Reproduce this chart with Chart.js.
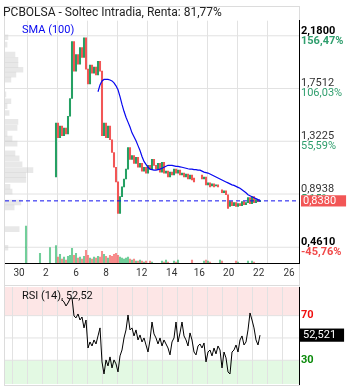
<!DOCTYPE html>
<html><head><meta charset="utf-8">
<script src="https://cdn.jsdelivr.net/npm/chart.js@4/dist/chart.umd.min.js"></script>
<style>
html,body{margin:0;padding:0;background:#fff;}
#wrap{position:relative;width:353px;height:390px;overflow:hidden;}
#frame{position:absolute;left:4px;top:6px;width:296px;height:380px;border:1px solid #dcdcdc;box-sizing:border-box;}
#sep{position:absolute;left:4px;top:285px;width:296px;height:1px;background:#dcdcdc;}
canvas{position:absolute;left:0;}
#c1{top:0}
#c2{top:286px}
</style></head><body>
<div id="wrap"><div id="frame"></div><div id="sep"></div>
<canvas id="c1" width="353" height="286"></canvas>
<canvas id="c2" width="353" height="104"></canvas></div>
<script>
// ---------- DATA ----------
const chartTitle = 'PCBOLSA - Soltec Intradia, Renta: 81,77%';
const smaLabel = 'SMA (100)';
const rsiLabel = 'RSI (14)';
const xTickLabels = ['30','2','6','8','12','14','16','20','22','26'];
const xTickPos = [-3.5, 9.85, 25, 40, 57.85, 72.85, 86.65, 101.35, 116.35, 131.5];
const priceTicks = [2.18, 1.7512, 1.3225, 0.8938, 0.461];
const pctLabels = ['156,47%','106,03%','55,59%','5,15%','-45,76%'];
const lastPrice = 0.838;
const rsiTicks = [30, 50, 70];
const rsiTickLabels = ['30', '', '70'];
const rsiLast = 52.521;

const opens = [null,null,null,null,null,null,null,null,null,null,null,null,null,null,null,
1.032,1.470,1.351,1.446,1.367,1.430,1.383,1.526,1.670,2.132,
1.893,2.028,1.949,2.084,2.004,2.164,1.909,1.789,1.941,1.877,
1.925,1.861,1.973,1.893,1.367,1.470,1.351,1.446,1.335,1.231,
1.111,0.992,0.737,0.872,0.952,1.016,1.096,1.271,1.175,1.207,
1.143,1.191,1.111,1.143,1.080,1.111,1.064,1.127,1.096,1.175,
1.127,1.096,1.143,1.072,1.151,1.064,1.080,1.032,1.072,1.048,
1.096,1.064,1.088,1.048,1.064,1.032,1.056,1.016,1.048,1.024,
null,null,null,1.048,1.016,1.032,0.968,0.984,0.960,0.976,
0.960,0.968,null,0.928,0.904,0.920,0.888,0.792,0.832,0.800,
0.824,0.792,0.816,0.800,0.832,0.808,0.824,0.864,0.816,0.872,
0.824,0.848,0.832];
const closes = [null,null,null,null,null,null,null,null,null,null,null,null,null,null,null,
1.470,1.351,1.446,1.367,1.430,1.383,1.526,1.670,2.132,1.893,
2.028,1.949,2.084,2.004,2.164,1.909,1.789,1.941,1.877,1.925,
1.861,1.973,1.893,1.367,1.470,1.351,1.446,1.335,1.231,1.111,
0.992,0.737,0.872,0.952,1.016,1.096,1.271,1.175,1.207,1.143,
1.191,1.111,1.143,1.080,1.111,1.064,1.127,1.096,1.175,1.127,
1.096,1.143,1.072,1.151,1.064,1.080,1.032,1.072,1.048,1.096,
1.064,1.088,1.048,1.064,1.032,1.056,1.016,1.048,1.008,0.992,
null,null,null,1.016,1.032,0.968,0.984,0.952,0.976,0.952,
0.968,0.952,null,0.904,0.920,0.888,0.776,0.832,0.800,0.824,
0.792,0.816,0.800,0.832,0.808,0.824,0.864,0.816,0.872,0.824,
0.848,0.832,0.838];
const volumes = [38,null,null,null,null,null,null,10,null,null,
null,null,16,null,null,18,6,9,4,6,
3,7,8,15,8,10,5,6,4,7,
13,8,5,4,6,5,7,6,12,9,
7,5,8,7,9,10,8,6,5,4,
5,6,4,3,4,2,2,3,2,1,
2,null,2,1,null,null,null,null,2,1,
3,1,null,null,2,1,3,null,null,null,
null,null,null,3,null,null,null,null,null,2,
3,2,1,null,null,null,null,3,2,null,
null,null,null,null,null,2,1,null,null,null,
null,2,null,2,1,null,null,null];
const sma100 = [null,null,null,null,null,null,null,null,null,null,null,null,null,null,null,null,null,null,
null,null,null,null,null,null,null,null,null,null,null,null,null,null,null,null,null,null,
1.725,1.781,1.813,1.825,1.825,1.825,1.821,1.813,1.797,1.773,
1.741,1.686,1.622,1.566,1.518,1.478,1.438,1.391,1.359,1.327,
1.287,1.247,1.199,1.159,1.135,1.111,1.096,1.092,1.088,1.088,
1.092,1.096,1.103,1.111,1.119,1.127,1.127,1.127,1.123,1.119,
1.119,1.115,1.111,1.107,1.103,1.099,1.096,1.096,1.092,1.092,
1.088,1.088,1.080,1.072,1.068,1.064,1.056,1.048,1.040,1.032,
1.024,1.016,1.008,1.000,0.992,0.984,0.976,0.968,0.964,0.956,
0.948,0.940,0.928,0.916,0.904,0.888,0.880,0.872,0.864,0.856,
0.848,0.844];
const rsi14 = [null,null,null,null,null,null,null,null,null,null,null,null,null,null,null,null,null,null,
84.1,82.3,78.7,81.4,85.0,86.0,69.7,68.0,71.5,66.1,
68.8,59.0,66.1,41.0,46.4,42.8,48.2,44.6,51.8,59.0,
28.5,17.7,30.3,24.9,33.0,23.1,30.3,26.7,19.5,33.9,
39.2,50.0,57.2,70.6,57.2,59.0,51.8,57.2,48.2,52.7,
46.4,50.0,43.7,37.4,48.2,64.3,53.6,50.0,44.6,50.0,
42.8,48.2,44.6,41.0,34.8,46.4,50.0,64.3,46.4,54.5,
64.3,51.8,48.2,42.8,54.5,48.2,37.4,34.8,42.8,44.6,
41.0,45.5,28.5,37.4,39.2,33.9,41.0,35.7,42.8,39.2,
23.1,37.4,32.1,19.5,17.7,37.4,39.2,43.7,37.4,48.2,
51.8,43.7,46.4,57.2,72.4,66.1,59.0,48.2,43.7,52.52];
const profPrice = [2.168,2.108,2.028,1.984,1.944,1.904,1.864,1.824,1.704,1.648,1.608,1.552,1.480,1.432,1.384,1.344,1.304,1.224,1.184,1.136,1.088,1.048,1.009,0.953,0.913,0.825,0.785,0.609,0.457];
const profVol = [10,7,34,44,44,61,37,20,3,20,7,14,44,41,7,24,41,34,48,58,95,71,71,17,24,54,31,48,10];

// ---------- HELPERS ----------
const GREEN = '#25a063', RED = '#f25656';
const GRID = '#e2e2e2';
const comma = (v, d) => v.toFixed(d).replace('.', ',');
const xMin = -10.5, xMax = 136.5;           // visible bar-index range
const labelAnchor = -2;                     // bar index where the in-panel captions start
const isUp = g => opens[g] === null || closes[g] >= opens[g];
const candleData = [], volData = [], smaData = [], rsiData = [];
opens.forEach((o, g) => { if (o !== null) candleData.push({x: g, y: [o, closes[g]]}); });
volumes.forEach((v, g) => { if (v !== null) volData.push({x: g, y: v}); });
sma100.forEach((v, g) => { if (v !== null) smaData.push({x: g, y: v}); });
rsi14.forEach((v, g) => { if (v !== null) rsiData.push({x: g, y: v}); });
const profData = profPrice.map((p, i) => ({x: profVol[i], y: p}));

Chart.defaults.font.family = 'Roboto';
Chart.defaults.animation = false;

const priceMin = 0.333, priceMax = 2.305;
const rsiMin = 8.7, rsiMax = 95.7;
// grid line paths (vertical time grid + horizontal value grid), drawn through the chart scales
const vGrid = (start, step, lo, hi) => { const d = []; for (let v = start; v < xMax - 1; v += step) d.push({x: v, y: lo}, {x: v, y: hi}, {x: v, y: null}); return d; };
const hGrid = vals => { const d = []; vals.forEach(v => d.push({x: xMin, y: v}, {x: xMax, y: v}, {x: xMax, y: null})); return d; };
const gridSet = (data, yID) => ({ label: 'grid', type: 'line', data: data, xAxisID: 'x', yAxisID: yID, borderColor: GRID, borderWidth: 1, pointRadius: 0, spanGaps: false, order: 20 });

const fitTo = (w, h) => s => { if (w !== null) s.width = w; if (h !== null) s.height = h; s.paddingTop = 0; s.paddingBottom = 0; s.paddingLeft = 0; s.paddingRight = 0; };
const isEnd = (i, n) => i === 0 || i === n - 1;
const noGrid = { display: false, drawTicks: false, offset: false };
const captionAxis = (text, color) => ({
  type: 'linear', axis: 'x', position: 'top', min: xMin, max: xMax, offset: false,
  afterBuildTicks: s => { s.ticks = [{value: labelAnchor}]; },
  afterFit: fitTo(null, 0),
  grid: noGrid, border: { display: false },
  ticks: { z: 1, mirror: true, align: 'start', padding: 3, autoSkip: false, maxRotation: 0, color: color, font: { size: 11 }, callback: () => text }
});

new Chart(document.getElementById('c1'), {
  type: 'line',
  data: { datasets: [
    { label: smaLabel, type: 'line', data: smaData, xAxisID: 'x', yAxisID: 'y', borderColor: '#0808f0', borderWidth: 1.2, pointRadius: 0, order: 0 },
    { label: 'Último', type: 'line', data: [{x: xMin, y: lastPrice}, {x: xMax, y: lastPrice}], xAxisID: 'x', yAxisID: 'y', borderColor: '#1010ee', borderWidth: 1, borderDash: [4, 3], pointRadius: 0, order: 1 },
    { label: 'Precio', type: 'bar', data: candleData, xAxisID: 'x', yAxisID: 'y', grouped: false, barThickness: 1.4, minBarLength: 1,
      backgroundColor: c => (c.raw && c.raw.y[1] >= c.raw.y[0]) ? GREEN : RED, order: 2 },
    { label: 'Volumen', type: 'bar', data: volData, xAxisID: 'x', yAxisID: 'yVol', grouped: false, barThickness: 1.4,
      backgroundColor: c => c.raw && isUp(c.raw.x) ? 'rgba(39,180,100,0.65)' : 'rgba(242,80,80,0.65)', order: 3 },
    { label: 'Perfil', type: 'bar', indexAxis: 'y', data: profData, xAxisID: 'xProf', yAxisID: 'y', grouped: false, barThickness: 5,
      backgroundColor: 'rgba(205,205,205,0.45)', order: 4 },
    gridSet(vGrid(0.75, 15, priceMin, priceMax), 'y'),
    gridSet(hGrid(priceTicks), 'y')
  ]},
  options: {
    responsive: false, devicePixelRatio: 1, events: [],
    layout: { padding: { left: 3, right: 0, top: 0, bottom: 3 } },
    plugins: {
      tooltip: { enabled: false }, legend: { display: false },
      title: { display: true, text: chartTitle, align: 'start', color: '#222', font: { size: 12, weight: 'normal' }, padding: { top: 6, bottom: 0 } }
    },
    scales: {
      x: { type: 'linear', position: 'bottom', min: xMin, max: xMax, offset: false,
        afterBuildTicks: s => { s.ticks = xTickPos.map(v => ({value: v})); },
        grid: noGrid,
        border: { display: true, color: '#000', width: 1 },
        ticks: { autoSkip: false, maxRotation: 0, padding: 4, color: '#333', font: { size: 10 }, callback: (v, i) => xTickLabels[i] } },
      xCap: captionAxis(smaLabel, '#0808f0'),
      xProf: { type: 'linear', axis: 'x', display: false, min: 0, max: 1000, offset: false },
      y: { type: 'linear', position: 'right', weight: 0, min: priceMin, max: priceMax, offset: false,
        afterBuildTicks: s => { s.ticks = priceTicks.map(v => ({value: v})); },
        afterFit: fitTo(54, null),
        grid: noGrid,
        border: { display: true, color: '#000', width: 1 },
        ticks: { autoSkip: false, labelOffset: -5, padding: 2,
          color: c => isEnd(c.index, priceTicks.length) ? '#000' : '#333',
          font: c => ({ size: 11, weight: isEnd(c.index, priceTicks.length) ? 'bold' : 'normal' }),
          callback: (v, i) => comma(priceTicks[i], 4) } },
      yPct: { type: 'linear', axis: 'y', position: 'left', weight: 2, min: priceMin, max: priceMax, offset: false,
        afterBuildTicks: s => { s.ticks = priceTicks.map(v => ({value: v})); },
        afterFit: fitTo(1, null),
        grid: noGrid, border: { display: false },
        ticks: { autoSkip: false, mirror: true, crossAlign: 'near', labelOffset: 5, padding: 297,
          color: c => c.index === priceTicks.length - 1 ? '#f04848' : '#2f9e6d',
          font: c => ({ size: 11, weight: isEnd(c.index, priceTicks.length) ? 'bold' : 'normal' }),
          callback: (v, i) => pctLabels[i] } },
      yCur: { type: 'linear', axis: 'y', position: 'left', weight: 1, min: priceMin, max: priceMax, offset: false,
        afterBuildTicks: s => { s.ticks = [{value: lastPrice}]; },
        afterFit: fitTo(1, null),
        grid: noGrid, border: { display: false },
        ticks: { z: 2, autoSkip: false, mirror: true, crossAlign: 'near', padding: 298, color: '#fff', font: { size: 11 },
          showLabelBackdrop: true, backdropColor: RED, backdropPadding: { top: -1, bottom: -1, left: 2, right: 10 },
          callback: () => comma(lastPrice, 4) } },
      yVol: { type: 'linear', axis: 'y', display: false, min: 0, max: 250, offset: false }
    }
  }
});

new Chart(document.getElementById('c2'), {
  type: 'line',
  data: { datasets: [
    { label: rsiLabel, data: rsiData, borderColor: '#000', borderWidth: 1, pointRadius: 0, order: 0, xAxisID: 'x', yAxisID: 'yR' },
    { label: 'Sobrecompra', data: [{x: xMin, y: rsiMax}, {x: xMax, y: rsiMax}], fill: { value: 70 }, backgroundColor: '#fde6e6', borderWidth: 0, pointRadius: 0, order: 30, xAxisID: 'x', yAxisID: 'yR' },
    { label: 'Sobreventa', data: [{x: xMin, y: rsiMin}, {x: xMax, y: rsiMin}], fill: { value: 30 }, backgroundColor: '#e3f9e3', borderWidth: 0, pointRadius: 0, order: 30, xAxisID: 'x', yAxisID: 'yR' },
    gridSet(vGrid(-6.75, 7.5, rsiMin, rsiMax), 'yR'),
    gridSet(hGrid(rsiTicks), 'yR')
  ]},
  options: {
    responsive: false, devicePixelRatio: 1, events: [],
    layout: { padding: { left: 4, right: 0, top: 1, bottom: 6 } },
    plugins: { tooltip: { enabled: false }, legend: { display: false }, filler: { drawTime: 'beforeDraw' } },
    scales: {
      x: { type: 'linear', position: 'bottom', min: xMin, max: xMax, offset: false,
        grid: noGrid, border: { display: false }, ticks: { display: false } },
      xCap: captionAxis(rsiLabel + ', ' + comma(rsiLast, 2), '#111'),
      yR: { type: 'linear', axis: 'y', position: 'right', weight: 0, min: rsiMin, max: rsiMax, offset: false,
        afterBuildTicks: s => { s.ticks = rsiTicks.map(v => ({value: v})); },
        afterFit: fitTo(54, null),
        grid: noGrid,
        border: { display: true, color: '#000', width: 1 },
        ticks: { autoSkip: false, padding: 2, font: { size: 11, weight: 'bold' },
          color: c => rsiTicks[c.index] >= 70 ? '#f01010' : '#0a8a0a',
          callback: (v, i) => rsiTickLabels[i] } },
      yRCur: { type: 'linear', axis: 'y', position: 'left', weight: 1, min: rsiMin, max: rsiMax, offset: false,
        afterBuildTicks: s => { s.ticks = [{value: rsiLast}]; },
        afterFit: fitTo(1, null),
        grid: noGrid, border: { display: false },
        ticks: { z: 2, autoSkip: false, mirror: true, crossAlign: 'near', padding: 298, color: '#fff', font: { size: 11 },
          showLabelBackdrop: true, backdropColor: '#000', backdropPadding: { top: 0, bottom: 0, left: 3, right: 8 },
          callback: () => comma(rsiLast, 3) } }
    }
  }
});
</script>
</body></html>
